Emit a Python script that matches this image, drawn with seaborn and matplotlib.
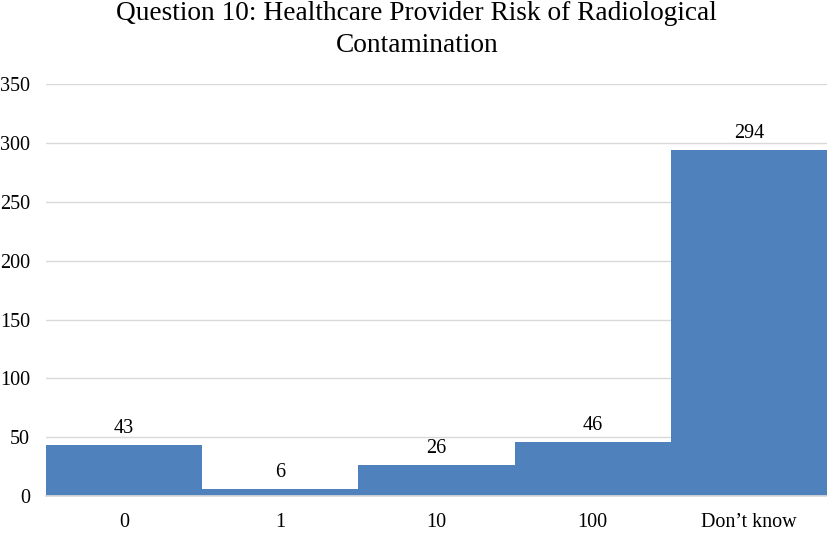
import matplotlib
matplotlib.use("Agg")
import matplotlib.pyplot as plt
import seaborn as sns
import pandas as pd

categories = ["0", "1", "10", "100", "Don\u2019t know"]
counts = [43, 6, 26, 46, 294]
y_ticks = [0, 50, 100, 150, 200, 250, 300, 350]

sns.set_theme(style="white")
plt.rcParams['font.family'] = ['Liberation Serif', 'DejaVu Serif']

df = pd.DataFrame({"cat": categories, "n": counts})
fig = plt.figure(figsize=(8.27, 5.33), dpi=100)
ax = fig.add_axes([0.0556, 0.0694, 0.9444, 0.7726])
sns.barplot(data=df, x="cat", y="n", color="#4F81BD", saturation=1, width=1.0,
            linewidth=0, edgecolor="none", ax=ax, zorder=2)
for p, v in zip(ax.patches, counts):
    ax.text(p.get_x() + p.get_width() / 2, v + 6, str(v), ha="center", va="bottom",
            fontsize=14.5, color="black")
ax.set_ylim(0, 350)
ax.set_xlim(-0.5, 4.5)
ax.set_yticks(y_ticks)
ax.yaxis.grid(True, color="#D9D9D9", linewidth=1, zorder=0)
ax.set_axisbelow(True)
for s in ["top", "right", "left"]:
    ax.spines[s].set_visible(False)
ax.spines["bottom"].set_color("#D9D9D9")
ax.set_xlabel("")
ax.set_ylabel("")
ax.tick_params(axis="both", labelsize=14.5, colors="black", length=0)
ax.tick_params(axis="x", pad=12)
ax.tick_params(axis="y", pad=11.5)
fig.suptitle("Question 10: Healthcare Provider Risk of Radiological\nContamination",
             fontsize=19.7, y=0.998, x=0.504, linespacing=1.35, color="black")
fig.savefig("out.png", dpi=100)
